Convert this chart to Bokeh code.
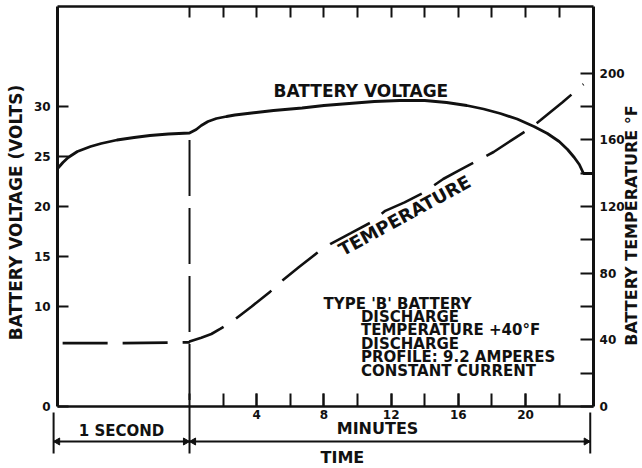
import math
from bokeh.plotting import figure
from bokeh.models import Range1d, LinearAxis, FixedTicker, Label
from bokeh.embed import file_html
from bokeh.resources import INLINE

# ---------------- data ----------------
# first phase: time in seconds (0..1)
sec_t = [0, 0.04, 0.08, 0.15, 0.25, 0.33, 0.45, 0.58, 0.7, 0.84, 1.0]
sec_volts = [23.8, 24.4, 24.9, 25.5, 26.0, 26.3, 26.65, 26.9, 27.1, 27.25, 27.35]
sec_temp_t = [0, 0.5, 1.0]
sec_temp = [38, 38, 38.5]

# second phase: time in minutes
min_t = [0, 0.4, 0.7, 1.1, 1.6, 2.2, 2.7, 3.7, 5.0, 6.7, 8.0, 9.5, 11.0, 12.5,
         14.0, 15.3, 16.5, 17.5, 18.5, 19.5, 20.5, 21.3, 22.0, 22.5, 22.9,
         23.2, 23.45, 24.05]
min_volts = [27.35, 27.7, 28.1, 28.5, 28.8, 29.0, 29.15, 29.35, 29.6, 29.85,
             30.1, 30.3, 30.5, 30.6, 30.6, 30.4, 30.1, 29.75, 29.3, 28.75,
             28.0, 27.3, 26.5, 25.7, 24.9, 24.2, 23.3, 23.3]
min_temp_t = [0, 0.7, 1.3, 1.85, 2.6, 3.7, 4.8, 5.5, 6.5, 7.6, 8.4, 9.6, 10.75,
              11.65, 12.8, 13.9, 15.1, 16.1, 17.1, 18.1, 19.2, 20.3, 20.9,
              22.2, 23.45]
min_temp = [39, 41.3, 43.5, 46.7, 51.5, 60, 68.9, 75.4, 83.5, 92.2, 97.6, 104,
            110.2, 117.4, 122.5, 128.1, 136.5, 142, 147.3, 152.7, 160, 167.1,
            171.9, 182.5, 193.4]

volt_ticks = [0, 10, 15, 20, 25, 30]
temp_ticks = [0, 40, 80, 120, 160, 200]
temp_minor_ticks = [20, 60, 100, 140, 180]
minute_ticks = [4, 8, 12, 16, 20]
minute_minor_ticks = [0, 2, 4, 6, 8, 10, 12, 14, 16, 18, 20, 22]
minutes_end = 24

volt_title = "BATTERY VOLTAGE (VOLTS)"
temp_title = "BATTERY TEMPERATURE °F"
notes = ["TYPE 'B' BATTERY", "DISCHARGE", "TEMPERATURE +40°F", "DISCHARGE",
         "PROFILE: 9.2 AMPERES", "CONSTANT CURRENT"]

# ---------------- layout ----------------
SEC_SPAN = 7.85          # width of the 1-second phase in axis units
BOX_L, BOX_R = -SEC_SPAN, 24.05
V_TOP = 40
T_PER_V = 6.0            # temperature axis = 6 x voltage axis
INK = "#111111"
FONT = "DejaVu Sans"

def sec_to_x(vals):
    return [(s - 1.0) * SEC_SPAN for s in vals]

volt_x = sec_to_x(sec_t) + min_t
volt_y = sec_volts + min_volts
temp_x = sec_to_x(sec_temp_t) + min_temp_t
temp_y = sec_temp + min_temp

# the plotting frame covers the whole canvas; the chart box sits inside it
x_lo, x_hi = -11.25, 26.96
y_lo, y_hi = -6.2, 40.6
p = figure(width=642, height=468, output_backend="svg", toolbar_location=None,
           x_range=Range1d(x_lo, x_hi), y_range=Range1d(y_lo, y_hi),
           min_border_left=0, min_border_right=0, min_border_top=0,
           min_border_bottom=0)
p.extra_y_ranges = {"temp": Range1d(y_lo * T_PER_V, y_hi * T_PER_V)}
p.grid.visible = False
p.background_fill_color = "white"
p.border_fill_color = "white"
p.outline_line_color = None

def style_axis(ax, tick_in, width=2.5):
    ax.axis_line_color = INK
    ax.axis_line_width = width
    ax.major_tick_in = tick_in
    ax.major_tick_out = 0
    ax.minor_tick_in = tick_in
    ax.minor_tick_out = 0
    ax.major_tick_line_color = INK
    ax.minor_tick_line_color = INK
    ax.major_tick_line_width = 2
    ax.minor_tick_line_width = 2
    ax.major_label_text_font = FONT
    ax.major_label_text_font_style = "bold"
    ax.major_label_text_font_size = "12px"
    ax.major_label_text_color = INK

# bottom axis (at 0 volts)
xa = p.xaxis[0]
xa.ticker = FixedTicker(ticks=minute_ticks, minor_ticks=minute_minor_ticks)
style_axis(xa, 13)
xa.major_label_standoff = 3
xa.fixed_location = 0
xa.bounds = (BOX_L, BOX_R)

# top axis (ticks only)
ta = LinearAxis(ticker=FixedTicker(ticks=[], minor_ticks=minute_minor_ticks))
style_axis(ta, 11)
ta.fixed_location = V_TOP
ta.bounds = (BOX_L, BOX_R)
p.add_layout(ta, "above")

# left axis
ya = p.yaxis[0]
ya.ticker = FixedTicker(ticks=volt_ticks, minor_ticks=[])
style_axis(ya, 11, width=3)
ya.fixed_location = BOX_L
ya.bounds = (0, V_TOP)
ya.major_label_standoff = 7

# right axis
ra = LinearAxis(y_range_name="temp",
                ticker=FixedTicker(ticks=temp_ticks, minor_ticks=temp_minor_ticks))
style_axis(ra, 13, width=3)
ra.fixed_location = BOX_R
ra.bounds = (0, V_TOP * T_PER_V)
ra.major_label_standoff = 6
p.add_layout(ra, "right")

# curves
p.line(volt_x, volt_y, line_color=INK, line_width=2.8)
p.line(temp_x, temp_y, line_color=INK, line_width=2.6, line_dash="45 15",
       line_dash_offset=-5, y_range_name="temp")

# boundary between the two phases (dashed inside the box)
p.segment(x0=[0], y0=[min_volts[0] - 0.7], x1=[0], y1=[0],
          line_color=INK, line_width=2, line_dash="56 12")

# time bracket below the box
bracket_y = -3.5
tick_top, tick_bot = -0.6, -4.7
left_edge = BOX_L - 0.24
right_edge = minutes_end - 0.15
p.segment(x0=[left_edge, 0, right_edge], y0=[tick_top, 0, tick_top],
          x1=[left_edge, 0, right_edge], y1=[tick_bot, tick_bot, tick_bot],
          line_color=INK, line_width=2)
p.segment(x0=[left_edge], y0=[bracket_y], x1=[right_edge], y1=[bracket_y],
          line_color=INK, line_width=1.8)
head = 0.24
p.scatter(x=[left_edge + head, -head, head, right_edge - head],
          y=[bracket_y] * 4, marker="triangle", size=7,
          angle=[math.pi / 2, -math.pi / 2, math.pi / 2, -math.pi / 2],
          fill_color=INK, line_color=INK)

def lab(text, x, y, size, align="center", angle=0.0):
    p.add_layout(Label(x=x, y=y, text=text, text_font=FONT,
                       text_font_style="bold", text_font_size=size,
                       text_color=INK, text_align=align,
                       text_baseline="middle", angle=angle))

# axis titles (read bottom to top on both sides)
lab(volt_title, -10.3, 19.4, "17px", angle=math.pi / 2)
lab(temp_title, 26.31, 18.1, "16px", angle=math.pi / 2)

lab("1 SECOND", -4.05, -2.4, "15px")
lab("MINUTES", 11.19, -2.2, "16px")
lab("TIME", 9.1, -5.1, "16px")

lab("BATTERY VOLTAGE", 5.0, 31.6, "17px", align="left")
lab("TEMPERATURE", 12.8, 19.1, "18px", angle=0.5)

note_x = [7.98] + [10.2] * (len(notes) - 1)
for i, t in enumerate(notes):
    lab(t, note_x[i], 10.3 - 1.34 * i, "15px", align="left")

open("out.html", "w").write(file_html(p, INLINE))
